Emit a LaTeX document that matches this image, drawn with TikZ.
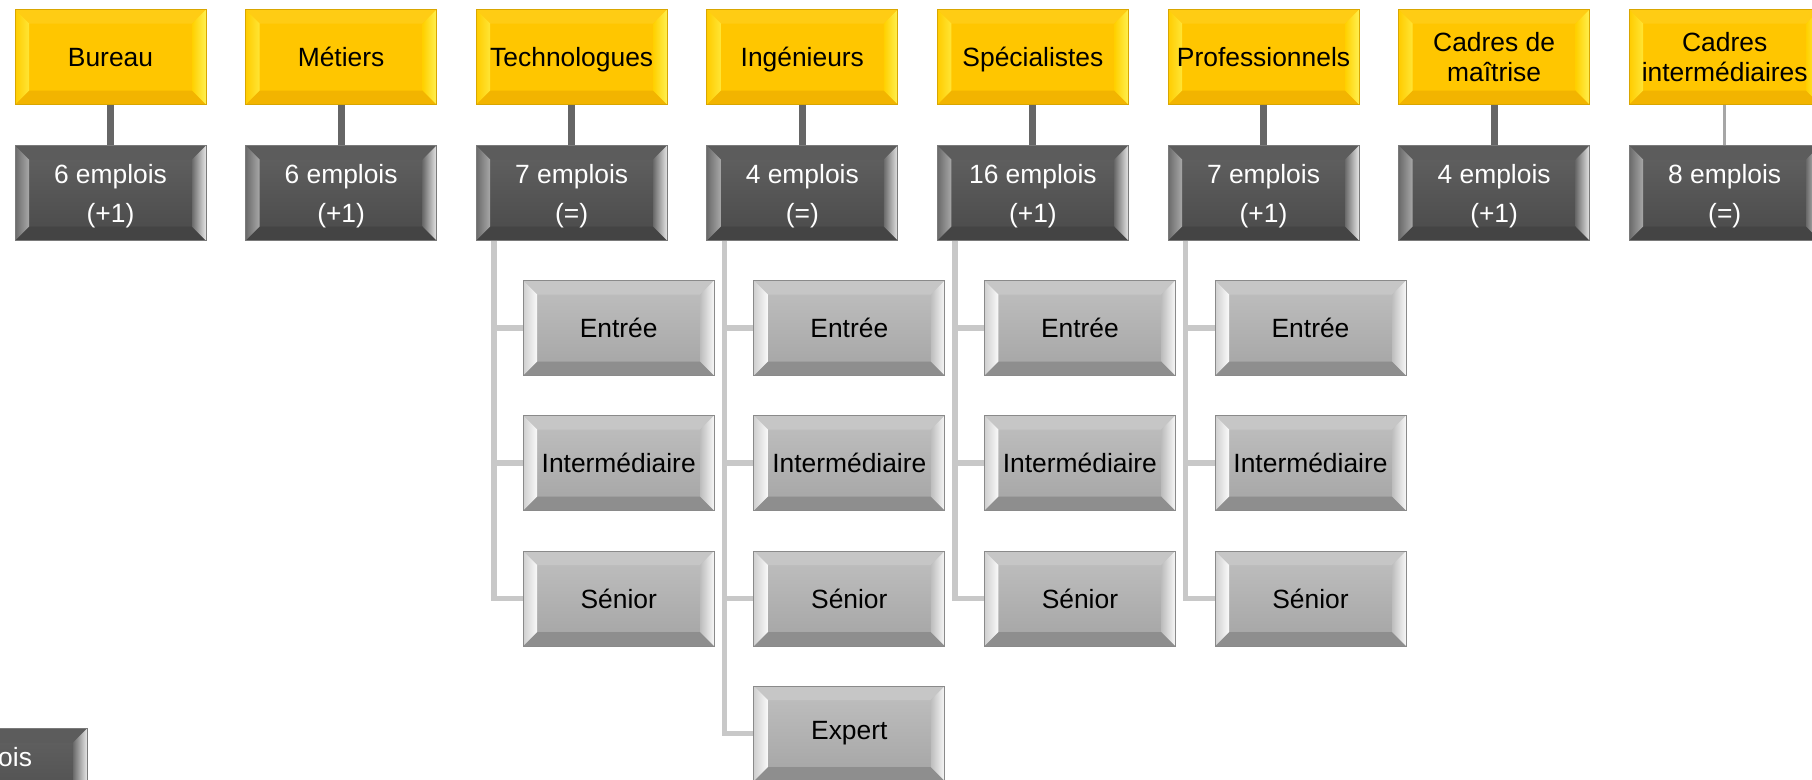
\documentclass[tikz,border=0pt]{standalone}
\usepackage{fontspec}
\setmainfont{Liberation Sans}
\definecolor{gface}{HTML}{FFC600}
\definecolor{gtop}{HTML}{FFCC14}
\definecolor{gbot}{HTML}{F2B400}
\definecolor{gleftA}{HTML}{FFCC00}
\definecolor{gleftB}{HTML}{FFE535}
\definecolor{grightA}{HTML}{FFD000}
\definecolor{grightB}{HTML}{FFF050}
\definecolor{gline}{HTML}{D9A600}
\definecolor{dface}{HTML}{505050}
\definecolor{dtop}{HTML}{5C5C5C}
\definecolor{dbot}{HTML}{444444}
\definecolor{dleftA}{HTML}{6A6A6A}
\definecolor{dleftB}{HTML}{A8A8A8}
\definecolor{drightA}{HTML}{6A6A6A}
\definecolor{drightB}{HTML}{E6E6E6}
\definecolor{dline}{HTML}{7A7A7A}
\definecolor{lfaceA}{HTML}{C0C0C0}
\definecolor{lfaceB}{HTML}{A4A4A4}
\definecolor{ltop}{HTML}{C6C6C6}
\definecolor{lbot}{HTML}{8E8E8E}
\definecolor{lleftA}{HTML}{CFCFCF}
\definecolor{lleftB}{HTML}{FAFAFA}
\definecolor{lrightA}{HTML}{BDBDBD}
\definecolor{lrightB}{HTML}{F8F8F8}
\definecolor{lline}{HTML}{8A8A8A}
\definecolor{stemcol}{HTML}{666666}
\definecolor{stemlight}{HTML}{A6A6A6}
\definecolor{treecol}{HTML}{C8C8C8}
\newcommand\bvd{14pt}
\newcommand\bvl[4]{%
 \path[#1] (path picture bounding box.north west) -- (path picture bounding box.north east) -- ([shift={(-\bvd,-\bvd)}]path picture bounding box.north east) -- ([shift={(\bvd,-\bvd)}]path picture bounding box.north west) -- cycle;
 \path[#2] (path picture bounding box.south west) -- (path picture bounding box.south east) -- ([shift={(-\bvd,\bvd)}]path picture bounding box.south east) -- ([shift={(\bvd,\bvd)}]path picture bounding box.south west) -- cycle;
 \path[#3] (path picture bounding box.north west) -- (path picture bounding box.south west) -- ([shift={(\bvd,\bvd)}]path picture bounding box.south west) -- ([shift={(\bvd,-\bvd)}]path picture bounding box.north west) -- cycle;
 \path[#4] (path picture bounding box.north east) -- (path picture bounding box.south east) -- ([shift={(-\bvd,\bvd)}]path picture bounding box.south east) -- ([shift={(-\bvd,-\bvd)}]path picture bounding box.north east) -- cycle;
}
% text helpers: centred lines, lowered slightly (reported size unchanged)
\newcommand\gtxt[1]{\raisebox{-3pt}[\height][\depth]{\begin{tabular}{@{}c@{}}#1\end{tabular}}}
\newcommand\dtxt[1]{\raisebox{-2.5pt}[\height][\depth]{\begin{tabular}{@{}c@{}}#1\end{tabular}}}
\tikzset{
  boxbase/.style={rectangle, inner sep=0pt, minimum width=191pt, minimum height=95pt, align=center},
  goldbox/.style={boxbase, fill=gface, draw=gline, line width=0.8pt,
    font=\fontsize{26.4pt}{30pt}\selectfont, text=black,
    path picture={\bvl{fill=gtop}{fill=gbot}{left color=gleftA,right color=gleftB}{left color=grightA,right color=grightB}}},
  darkbox/.style={boxbase, top color=dface!90!white, bottom color=dface!92!black, draw=dline, line width=0.8pt,
    font=\fontsize{26.4pt}{39pt}\selectfont, text=white,
    path picture={\bvl{fill=dtop}{fill=dbot}{left color=dleftA,right color=dleftB}{left color=drightA,right color=drightB}}},
  lightbox/.style={boxbase, top color=lfaceA, bottom color=lfaceB, draw=lline, line width=0.8pt,
    font=\fontsize{26.4pt}{30pt}\selectfont, text=black,
    path picture={\bvl{fill=ltop}{fill=lbot}{left color=lleftA,right color=lleftB}{left color=lrightA,right color=lrightB}}},
  stemline/.style={draw=stemcol, line width=7pt},
  stemthin/.style={draw=stemlight, line width=3pt},
  treeline/.style={draw=treecol, line width=5.5pt},
}
\begin{document}
\begin{tikzpicture}[x=1pt,y=-1pt]
\clip (0,0) rectangle (1812,779);
\fill[white] (0,0) rectangle (1812,779);
% top row
\node[goldbox] (t0) at (110.5,57) {\gtxt{Bureau}};
\node[goldbox] (t1) at (341.1,57) {\gtxt{Métiers}};
\node[goldbox] (t2) at (571.7,57) {\gtxt{Technologues}};
\node[goldbox] (t3) at (802.3,57) {\gtxt{Ingénieurs}};
\node[goldbox] (t4) at (1032.9,57) {\gtxt{Spécialistes}};
\node[goldbox] (t5) at (1263.5,57) {\gtxt{Professionnels}};
\node[goldbox] (t6) at (1494.1,57) {\gtxt{Cadres de\\maîtrise}};
\node[goldbox] (t7) at (1724.7,57) {\gtxt{Cadres\\intermédiaires}};
% second row
\node[darkbox] (d0) at (110.5,193) {\dtxt{6 emplois\\(+1)}};
\node[darkbox] (d1) at (341.1,193) {\dtxt{6 emplois\\(+1)}};
\node[darkbox] (d2) at (571.7,193) {\dtxt{7 emplois\\(=)}};
\node[darkbox] (d3) at (802.3,193) {\dtxt{4 emplois\\(=)}};
\node[darkbox] (d4) at (1032.9,193) {\dtxt{16 emplois\\(+1)}};
\node[darkbox] (d5) at (1263.5,193) {\dtxt{7 emplois\\(+1)}};
\node[darkbox] (d6) at (1494.1,193) {\dtxt{4 emplois\\(+1)}};
\node[darkbox] (d7) at (1724.7,193) {\dtxt{8 emplois\\(=)}};
% partial box bottom-left
\node[darkbox] (dx) at (-8.5,776) {\dtxt{emplois\hspace*{10pt}\\\phantom{(=)}}};
% children
\node[lightbox] (c2a) at (618.7,328) {Entrée};
\node[lightbox] (c2b) at (618.7,463) {Intermédiaire};
\node[lightbox] (c2c) at (618.7,598.5) {Sénior};
\node[lightbox] (c3a) at (849.3,328) {Entrée};
\node[lightbox] (c3b) at (849.3,463) {Intermédiaire};
\node[lightbox] (c3c) at (849.3,598.5) {Sénior};
\node[lightbox] (c3d) at (849.3,733.5) {Expert};
\node[lightbox] (c4a) at (1079.9,328) {Entrée};
\node[lightbox] (c4b) at (1079.9,463) {Intermédiaire};
\node[lightbox] (c4c) at (1079.9,598.5) {Sénior};
\node[lightbox] (c5a) at (1310.5,328) {Entrée};
\node[lightbox] (c5b) at (1310.5,463) {Intermédiaire};
\node[lightbox] (c5c) at (1310.5,598.5) {Sénior};
% stems
\foreach \i in {0,...,6} {\draw[stemline] (t\i.south) -- (d\i.north);}
\draw[stemthin] (t7.south) -- (d7.north);
% tree lines
\foreach \p/\c in {2/c2a,2/c2b,2/c2c,3/c3a,3/c3b,3/c3c,3/c3d,4/c4a,4/c4b,4/c4c,5/c5a,5/c5b,5/c5c}
  {\draw[treeline] ([xshift=18pt]d\p.south west) |- (\c.west);}
\end{tikzpicture}
\end{document}
